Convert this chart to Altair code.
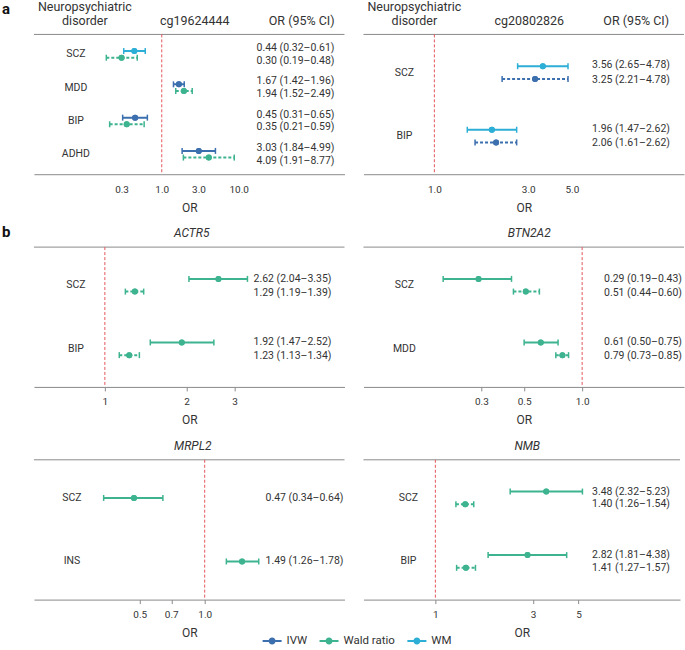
import altair as alt
import pandas as pd

FONT = "Roboto"
TXT = "#333333"
GRAY = "#8a8a8a"
RED = "#e5545a"

method_domain = ["IVW", "Wald ratio", "WM"]
method_colors = ["#3b6fae", "#3db38f", "#2caed6"]

# ---- panel a: cg19624444
a1_disorder = ["SCZ", "SCZ", "MDD", "MDD", "BIP", "BIP", "ADHD", "ADHD"]
a1_method = ["WM", "Wald ratio", "IVW", "Wald ratio", "IVW", "Wald ratio", "IVW", "Wald ratio"]
a1_row = [1, 2, 1, 2, 1, 2, 1, 2]
a1_est = [0.44, 0.30, 1.67, 1.94, 0.45, 0.35, 3.03, 4.09]
a1_lo = [0.32, 0.19, 1.42, 1.52, 0.31, 0.21, 1.84, 1.91]
a1_hi = [0.61, 0.48, 1.96, 2.49, 0.65, 0.59, 4.99, 8.77]

# ---- panel a: cg20802826
a2_disorder = ["SCZ", "SCZ", "BIP", "BIP"]
a2_method = ["WM", "IVW", "WM", "IVW"]
a2_row = [1, 2, 1, 2]
a2_est = [3.56, 3.25, 1.96, 2.06]
a2_lo = [2.65, 2.21, 1.47, 1.61]
a2_hi = [4.78, 4.78, 2.62, 2.62]

# ---- panel b: ACTR5
b1_disorder = ["SCZ", "SCZ", "BIP", "BIP"]
b1_method = ["Wald ratio", "Wald ratio", "Wald ratio", "Wald ratio"]
b1_row = [1, 2, 1, 2]
b1_est = [2.62, 1.29, 1.92, 1.23]
b1_lo = [2.04, 1.19, 1.47, 1.13]
b1_hi = [3.35, 1.39, 2.52, 1.34]

# ---- panel b: BTN2A2
b2_disorder = ["SCZ", "SCZ", "MDD", "MDD"]
b2_method = ["Wald ratio", "Wald ratio", "Wald ratio", "Wald ratio"]
b2_row = [1, 2, 1, 2]
b2_est = [0.29, 0.51, 0.61, 0.79]
b2_lo = [0.19, 0.44, 0.50, 0.73]
b2_hi = [0.43, 0.60, 0.75, 0.85]

# ---- panel b: MRPL2
b3_disorder = ["SCZ", "INS"]
b3_method = ["Wald ratio", "Wald ratio"]
b3_row = [1, 1]
b3_est = [0.47, 1.49]
b3_lo = [0.34, 1.26]
b3_hi = [0.64, 1.78]

# ---- panel b: NMB
b4_disorder = ["SCZ", "SCZ", "BIP", "BIP"]
b4_method = ["Wald ratio", "Wald ratio", "Wald ratio", "Wald ratio"]
b4_row = [1, 2, 1, 2]
b4_est = [3.48, 1.40, 2.82, 1.41]
b4_lo = [2.32, 1.26, 1.81, 1.27]
b4_hi = [5.23, 1.54, 4.38, 1.57]


def make_df(disorder, method, row, est, lo, hi):
    return pd.DataFrame({
        "disorder": disorder, "method": method, "row": row,
        "est": est, "lo": lo, "hi": hi,
        "style": ["solid" if r == 1 else "dashed" for r in row],
        "label": [f"{o:.2f} ({l:.2f}\u2013{h:.2f})" for o, l, h in zip(est, lo, hi)],
    })


cscale = alt.Scale(domain=method_domain, range=method_colors)
SYMBOL = ("M-1,-0.1H1V0.1H-1Z "
          "M-0.37,0A0.37,0.37 0 1,1 0.37,0A0.37,0.37 0 1,1 -0.37,0Z")
LEGEND = alt.Legend(orient="none", legendX=229, legendY=598, direction="horizontal",
                    title=None, symbolType=SYMBOL, symbolSize=361, symbolStrokeWidth=0,
                    symbolOpacity=1, symbolFillColor="#3db38f",
                    labelFont=FONT, labelFontSize=11.5, labelColor=TXT,
                    labelOffset=5, columnPadding=12)

PANEL_H = 140


def panel(df, width, one_px, decade_px, ticks, fmt, tick_size, label_x, text_right,
          dys, headers):
    order = list(dict.fromkeys(df["disorder"]))
    bw = PANEL_H / (len(order) + 0.2)
    dlo = 10 ** (-one_px / decade_px)
    dhi = 10 ** ((width - one_px) / decade_px)
    xscale = alt.Scale(type="log", domain=[dlo, dhi], nice=False)
    xaxis = alt.Axis(values=ticks, format=fmt, title="OR", grid=False,
                     ticks=tick_size > 0, tickSize=tick_size, tickColor=GRAY,
                     domainColor=GRAY, domainWidth=1, labelFont=FONT, labelFontSize=10,
                     labelColor=TXT, labelPadding=(10 if tick_size == 0 else 6),
                     titleFont=FONT, titleFontSize=12, titleFontWeight="normal",
                     titleColor=TXT, titlePadding=8)
    yenc = alt.Y("disorder:N", scale=alt.Scale(domain=order, paddingInner=0, paddingOuter=0.1),
                 axis=None)
    yoff = alt.YOffset("row:N", scale=alt.Scale(range=[0.3 * bw, 0.7 * bw],
                                                paddingInner=0, paddingOuter=0))
    col = alt.Color("method:N", scale=cscale, legend=LEGEND)
    base = alt.Chart(df)
    one = alt.Chart(pd.DataFrame({"k": [0]}))

    layers = [
        one.mark_rule(color=GRAY, strokeWidth=1).encode(
            x=alt.value(0), x2=alt.value(width), y=alt.value(0)),
        one.mark_rule(color=RED, strokeWidth=1, strokeDash=[3, 2]).encode(
            x=alt.XDatum(1, type="quantitative", scale=xscale, axis=xaxis)),
        base.mark_circle(size=36, opacity=1).encode(
            x=alt.X("est:Q", scale=xscale, axis=xaxis), y=yenc, yOffset=yoff, color=col),
        base.mark_rule(strokeWidth=2).encode(
            x=alt.X("lo:Q", scale=xscale, axis=xaxis), x2="hi:Q",
            y=yenc, yOffset=yoff, color=col,
            strokeDash=alt.StrokeDash("style:N", scale=alt.Scale(
                domain=["solid", "dashed"], range=[[1, 0], [3, 2]]), legend=None)),
        base.transform_fold(["lo", "hi"], as_=["end", "xv"]).mark_tick(
            thickness=1.5, size=6, opacity=1).encode(
            x=alt.X("xv:Q", scale=xscale, axis=xaxis), y=yenc, yOffset=yoff, color=col),
        base.mark_circle(size=36, opacity=1).encode(
            x=alt.X("est:Q", scale=xscale, axis=xaxis), y=yenc, yOffset=yoff, color=col),
        base.transform_filter(alt.datum.row == 1).mark_text(
            align="center", baseline="middle", font=FONT, fontSize=10.5, color=TXT).encode(
            x=alt.value(label_x), y=yenc, text="disorder:N"),
    ]
    rows = sorted(set(df["row"]))
    for r in rows:
        layers.append(
            base.transform_filter(alt.datum.row == r).mark_text(
                align="right", baseline="middle", dy=dys[r - 1], font=FONT,
                fontSize=10.5, color=TXT).encode(
                x=alt.value(text_right), y=yenc, yOffset=yoff, text="label:N"))
    for h in headers:
        kw = dict(text=h["text"], align=h.get("align", "center"),
                  baseline="middle", font=FONT,
                  fontSize=h.get("size", 12.5), color=h.get("color", TXT),
                  fontStyle=h.get("style", "normal"), fontWeight=h.get("weight", "normal"))
        layers.append(one.mark_text(**kw).encode(x=alt.value(h["x"]), y=alt.value(h["y"])))
    return alt.layer(*layers).properties(width=width, height=PANEL_H)


def np_header():
    return [dict(text="Neuropsychiatric", x=51, y=-27), dict(text="disorder", x=51, y=-13)]


A1 = panel(make_df(a1_disorder, a1_method, a1_row, a1_est, a1_lo, a1_hi),
           311, 128, 77, [0.3, 1, 3, 10], ".1f", 0, 42, 301, (-3, 3),
           [dict(text="a", x=-32, y=-25, align="left", size=15, weight="bold", color="#111")]
           + np_header()
           + [dict(text="cg19624444", x=161, y=-13),
              dict(text="OR (95% CI)", x=301, y=-13, align="right")])
A2 = panel(make_df(a2_disorder, a2_method, a2_row, a2_est, a2_lo, a2_hi),
           321, 71, 197, [1, 3, 5], ".1f", 0, 41, 307, (-1, 1),
           np_header()
           + [dict(text="cg20802826", x=166, y=-13),
              dict(text="OR (95% CI)", x=306, y=-13, align="right")])
B1 = panel(make_df(b1_disorder, b1_method, b1_row, b1_est, b1_lo, b1_hi),
           311, 71, 272, [1, 2, 3], "d", 4, 42, 298, (0, 1),
           [dict(text="b", x=-32, y=-15, align="left", size=15, weight="bold", color="#111"),
            dict(text="ACTR5", x=158, y=-14, size=12, style="italic")])
B2 = panel(make_df(b2_disorder, b2_method, b2_row, b2_est, b2_lo, b2_hi),
           321, 219, 193, [0.3, 0.5, 1], ".1f", 4, 41, 319, (0, 1),
           [dict(text="BTN2A2", x=166, y=-14, size=12, style="italic")])
B3 = panel(make_df(b3_disorder, b3_method, b3_row, b3_est, b3_lo, b3_hi),
           311, 171, 216, [0.5, 0.7, 1], ".1f", 4, 38, 310, (0, 1),
           [dict(text="MRPL2", x=159, y=-14, size=12, style="italic")])
B4 = panel(make_df(b4_disorder, b4_method, b4_row, b4_est, b4_lo, b4_hi),
           317, 72, 205, [1, 3, 5], "d", 4, 45, 307, (0, 0),
           [dict(text="NMB", x=164, y=-14, size=12, style="italic")])

chart = (
    alt.concat(A1, A2, B1, B2, B3, B4, columns=2,
               spacing={"row": 73, "column": 19}, bounds="flush")
    .resolve_scale(yOffset="independent")
    .properties(padding={"left": 2, "top": 1, "right": 0, "bottom": 0})
    .configure_view(stroke=None)
)

chart.save("out.html", embed_options={"renderer": "svg", "actions": False})
